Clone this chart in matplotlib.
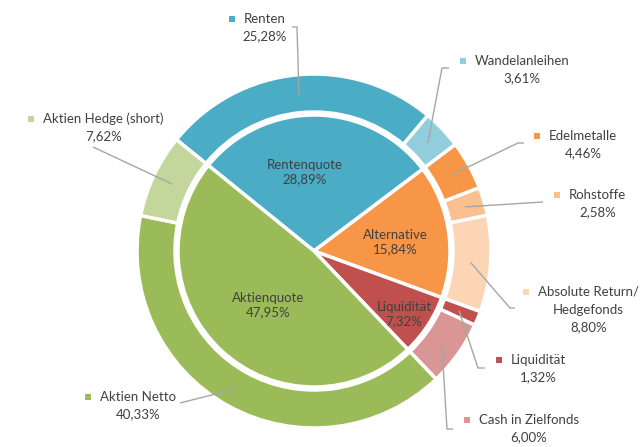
import numpy as np
import matplotlib
matplotlib.use('Agg')
import matplotlib.pyplot as plt
from matplotlib.patches import Rectangle

plt.rcParams['font.family'] = ['Lato', 'DejaVu Sans']

# innerer Ring (Quoten)
inner_labels = ['Rentenquote', 'Alternative', 'Liquidität', 'Aktienquote']
inner_values = [28.89, 15.84, 7.32, 47.95]
inner_colors = ['#4BACC6', '#F79646', '#C0504D', '#9BBB59']

# aeusserer Ring (Details)
outer_labels = ['Renten', 'Wandelanleihen', 'Edelmetalle', 'Rohstoffe',
                'Absolute Return/\nHedgefonds', 'Liquidität', 'Cash in Zielfonds',
                'Aktien Netto', 'Aktien Hedge (short)']
outer_values = [25.28, 3.61, 4.46, 2.58, 8.80, 1.32, 6.00, 40.33, 7.62]
outer_colors = ['#4BACC6', '#92CDDC', '#F79646', '#FAC090', '#FCD5B5',
                '#C0504D', '#D99694', '#9BBB59', '#C3D69B']

def fmt(v):
    return ('%.2f%%' % v).replace('.', ',')

# Mittelpunkt in Pixeln, alles weitere in Pixelkoordinaten
CX, CY = 314, 251
R_OUT = 177
R_IN = 136
START = 141
STEP = 17.5  # Zeilenabstand der Beschriftungen
FS = 9.5

def px(x, y):
    return x - CX, CY - y

fig = plt.figure(figsize=(6.41, 4.47), dpi=100)
ax = fig.add_axes([0, 0, 1, 1])

ax.pie(outer_values, colors=outer_colors, radius=R_OUT, startangle=START,
       counterclock=False, wedgeprops=dict(width=38, edgecolor='white', linewidth=2.5))
ax.pie(inner_values, colors=inner_colors, radius=R_IN, startangle=START,
       counterclock=False, wedgeprops=dict(edgecolor='white', linewidth=2.5))

ax.set_xlim(-CX, 641 - CX)
ax.set_ylim(-(447 - CY), CY)
ax.set_aspect('equal')
ax.axis('off')

txt = '#404040'
line_c = '#A6A6A6'

# innere Beschriftungen (Pixelposition der Textmitte)
inner_pos = [(305, 172), (395, 242), (404, 314), (268, 305)]
for lab, v, (x, y) in zip(inner_labels, inner_values, inner_pos):
    ax.text(*px(x, y), lab + '\n' + fmt(v), ha='center', va='center',
            fontsize=FS, color=txt, linespacing=1.25)

# aeussere Beschriftungen: Anfang der ersten Zeile, Knickpunkte der Linie
name_pos = [(244, 19), (475, 61), (549, 136), (569, 195), (538, 292),
            (511, 360), (479, 420), (100, 397), (43, 119)]
leaders = [[(297, 27), (292, 27)],
           [(442, 68), (449, 68)],
           [(518, 143), (524, 143)],
           [(543, 202)],
           [(510, 308), (515, 308)],
           [(478, 368), (485, 368)],
           [(447, 429), (453, 429)],
           [(180, 403)],
           [(93, 147)]]

fig.canvas.draw()
inv = ax.transData.inverted()

cum = np.cumsum([0] + outer_values)
for i, (lab, v) in enumerate(zip(outer_labels, outer_values)):
    mid = np.deg2rad(START - (cum[i] + v / 2) * 3.6)
    r = R_OUT - 20
    pts = [(r * np.cos(mid), r * np.sin(mid))] + [px(*p) for p in leaders[i]]
    xs, ys = zip(*pts)
    ax.plot(xs, ys, color=line_c, lw=1, solid_capstyle='butt', zorder=3)

    nx, ny = name_pos[i]
    sx, sy = px(nx - 12, ny)
    ax.add_patch(Rectangle((sx - 3, sy - 3), 6, 6, color=outer_colors[i], lw=0, zorder=4))

    lines = lab.split('\n') + [fmt(v)]
    t = ax.text(*px(nx, ny), lines[0], ha='left', va='center', fontsize=FS,
                color=txt, zorder=4)
    bb = t.get_window_extent(renderer=fig.canvas.get_renderer())
    (x0, _), (x1, _) = inv.transform([(bb.x0, bb.y0), (bb.x1, bb.y1)])
    xc = (x0 + x1) / 2
    for k, line in enumerate(lines[1:]):
        ax.text(xc, px(nx, ny + STEP * (k + 1))[1], line, ha='center', va='center',
                fontsize=FS, color=txt, zorder=4)

fig.savefig('out.png', dpi=100)
